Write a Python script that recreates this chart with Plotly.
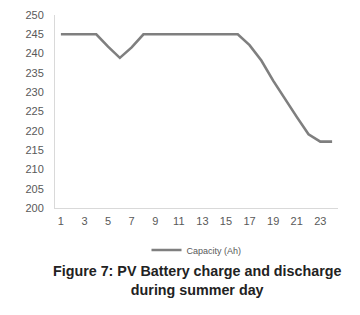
import plotly.graph_objects as go

hours = list(range(1, 25))
capacity = [245, 245, 245, 245, 241.8, 238.9, 241.6, 245, 245, 245, 245, 245,
            245, 245, 245, 245, 242.2, 238.2, 233.0, 228.2, 223.6, 219.1, 217.2, 217.2]
y_ticks = list(range(200, 251, 5))
x_ticks = list(range(1, 24, 2))

# page body has an 8px default margin; size the figure to fit the window
W, H = 352, 307
T, B, L, R = 7, 107, 47, 22
plot_h = H - T - B

fig = go.Figure()
fig.add_trace(go.Scatter(x=hours, y=capacity, mode="lines", name="Capacity (Ah)",
                         line=dict(color="#7f7f7f", width=2.6)))

fig.update_layout(
    width=W, height=H,
    margin=dict(l=L, r=R, t=T, b=B, autoexpand=False),
    paper_bgcolor="white", plot_bgcolor="white",
    font=dict(family="Liberation Sans, Arial, sans-serif", color="#595959", size=11),
    showlegend=True,
    legend=dict(orientation="h", x=0.5, xanchor="center", y=-42 / plot_h, yanchor="middle",
                font=dict(size=9, color="#595959"), itemwidth=30,
                bgcolor="rgba(0,0,0,0)"),
    xaxis=dict(range=[0.5, 24.5], tickmode="array", tickvals=x_ticks,
               ticktext=[str(v) for v in x_ticks], showgrid=False, zeroline=False,
               showline=True, linecolor="#d9d9d9", linewidth=1, ticks="",
               ticklabelstandoff=3, ticklabeloverflow="allow",
               tickfont=dict(size=11, color="#595959")),
    yaxis=dict(range=[200, 250], tickmode="array", tickvals=y_ticks, showgrid=False,
               zeroline=False, showline=True, linecolor="#d9d9d9", linewidth=1, ticks="",
               ticklabelstandoff=8, ticklabeloverflow="allow",
               tickfont=dict(size=11, color="#595959")),
    annotations=[
        dict(text="<b>Figure 7: PV Battery charge and discharge<br>during summer day</b>",
             x=0.5, xref="paper", xanchor="center", y=-72.5 / plot_h, yref="paper",
             yanchor="middle", showarrow=False,
             font=dict(size=14.3, color="#222222", family="Liberation Sans, Arial, sans-serif"))
    ],
)
fig.write_html("out.html")
